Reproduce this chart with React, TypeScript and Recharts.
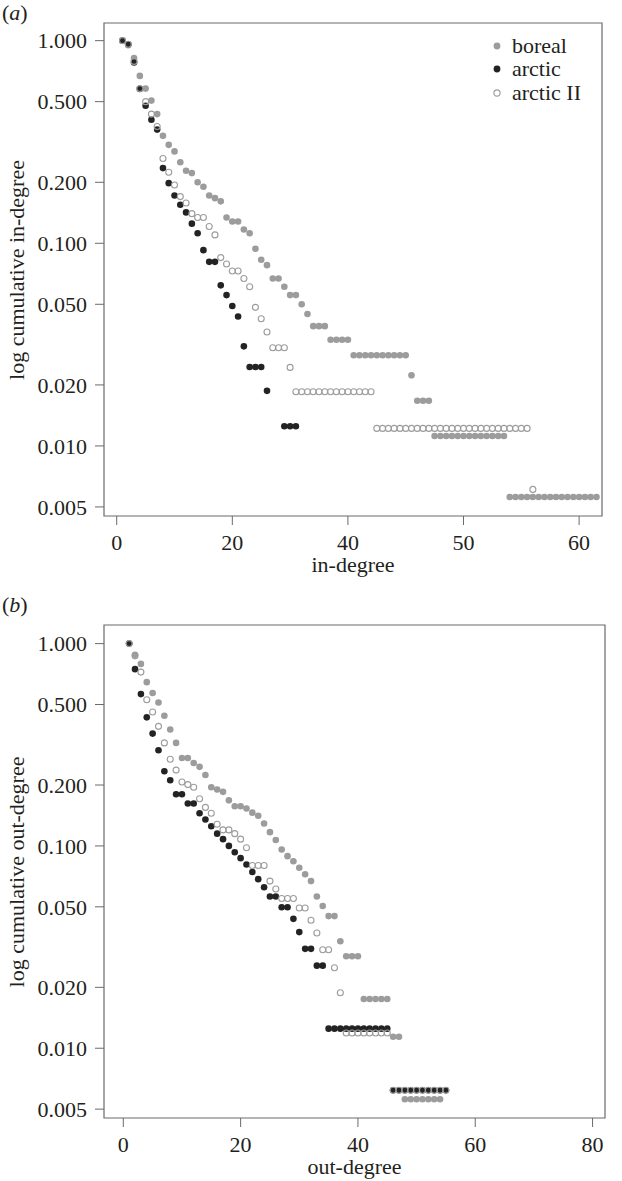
import { ScatterChart, Scatter, XAxis, YAxis, ReferenceArea } from 'recharts';

// cumulative in-degree, index 0 = degree 1 (null = no point)
const inBoreal = [
  1.0, 0.95, 0.82, 0.67, 0.58, 0.506, 0.434, 0.339, 0.306, 0.284,
  0.251, 0.228, 0.222, 0.2, 0.19, 0.172, 0.167, 0.161, 0.134, 0.128,
  0.128, 0.117, 0.112, 0.094, 0.083, 0.078, 0.067, 0.067, 0.061, 0.0555,
  0.0555, 0.05, 0.0448, 0.039, 0.039, 0.039, 0.0334, 0.0334, 0.0334, 0.0334,
  0.028, 0.028, 0.028, 0.028, 0.028, 0.028, 0.028, 0.028, 0.028, 0.028,
  0.0223, 0.0167, 0.0167, 0.0167, 0.0112, 0.0112, 0.0112, 0.0112, 0.0112, 0.0112,
  0.0112, 0.0112, 0.0112, 0.0112, 0.0112, 0.0112, 0.0112, 0.0056, 0.0056, 0.0056,
  0.0056, 0.0056, 0.0056, 0.0056, 0.0056, 0.0056, 0.0056, 0.0056, 0.0056, 0.0056,
  0.0056, 0.0056, 0.0056,
];
const inArctic = [
  1.0, 0.96, 0.78, 0.578, 0.477, 0.407, 0.364, 0.235, 0.198, 0.172,
  0.155, 0.142, 0.125, 0.112, 0.0925, 0.081, 0.081, 0.062, 0.0555, 0.049,
  0.0435, 0.031, 0.0245, 0.0245, 0.0245, 0.0187, null, null, 0.0125, 0.0125,
  0.0125,
];
const inArcticII = [
  1.0, 0.96, 0.79, 0.58, 0.5, 0.434, 0.377, 0.262, 0.224, 0.194,
  0.17, 0.158, 0.14, 0.134, 0.134, 0.121, 0.11, 0.085, 0.079, 0.073,
  0.073, 0.067, 0.061, 0.0483, 0.0424, 0.0365, 0.0305, 0.0305, 0.0305, 0.0244,
  0.0185, 0.0185, 0.0185, 0.0185, 0.0185, 0.0185, 0.0185, 0.0185, 0.0185, 0.0185,
  0.0185, 0.0185, 0.0185, 0.0185, 0.0122, 0.0122, 0.0122, 0.0122, 0.0122, 0.0122,
  0.0122, 0.0122, 0.0122, 0.0122, 0.0122, 0.0122, 0.0122, 0.0122, 0.0122, 0.0122,
  0.0122, 0.0122, 0.0122, 0.0122, 0.0122, 0.0122, 0.0122, 0.0122, 0.0122, 0.0122,
  0.0122, 0.0061,
];

// cumulative out-degree
const outBoreal = [
  1.0, 0.88, 0.794, 0.645, 0.57, 0.512, 0.44, 0.376, 0.323, 0.272,
  0.272, 0.257, 0.246, 0.224, 0.195, 0.19, 0.185, 0.168, 0.157, 0.157,
  0.153, 0.146, 0.141, 0.129, 0.117, 0.107, 0.096, 0.089, 0.084, 0.078,
  0.0725, 0.067, 0.0562, 0.0505, 0.045, 0.045, 0.0338, 0.0285, 0.0285, 0.0285,
  0.0175, 0.0175, 0.0175, 0.0175, 0.0175, 0.0114, 0.0114, 0.0056, 0.0056, 0.0056,
  0.0056, 0.0056, 0.0056, 0.0056,
];
const outArctic = [
  1.0, 0.748, 0.563, 0.432, 0.359, 0.297, 0.234, 0.211, 0.18, 0.18,
  0.162, 0.162, 0.145, 0.135, 0.125, 0.115, 0.108, 0.1, 0.093, 0.087,
  0.081, 0.0743, 0.0685, 0.0625, 0.0562, 0.0562, 0.0498, 0.0498, 0.0436, 0.0375,
  0.031, 0.031, 0.0256, 0.0256, 0.0125, 0.0125, 0.0125, 0.0125, 0.0125, 0.0125,
  0.0125, 0.0125, 0.0125, 0.0125, 0.0125, 0.0062, 0.0062, 0.0062, 0.0062, 0.0062,
  0.0062, 0.0062, 0.0062, 0.0062, 0.0062,
];
const outArcticII = [
  1.0, 0.87, 0.723, 0.528, 0.459, 0.39, 0.323, 0.268, 0.237, 0.207,
  0.201, 0.195, 0.171, 0.155, 0.145, 0.128, 0.12, 0.12, 0.115, 0.108,
  0.098, 0.08, 0.08, 0.08, 0.067, 0.0612, 0.055, 0.055, 0.055, 0.0493,
  0.0493, 0.0429, 0.0371, 0.0307, 0.0307, 0.025, 0.0188, 0.0119, 0.0119, 0.0119,
  0.0119, 0.0119, 0.0119, 0.0119, 0.0119, 0.0062, 0.0062, 0.0062, 0.0062, 0.0062,
  0.0062, 0.0062, 0.0062, 0.0062, 0.0062,
];

const yTicks = [1, 0.5, 0.2, 0.1, 0.05, 0.02, 0.01, 0.005];
const xTicks = [0, 20, 40, 60, 80];
const inXTickLabels = ['0', '20', '40', '50', '60'];
const outXTickLabels = ['0', '20', '40', '60', '80'];
const legendNames = ['boreal', 'arctic', 'arctic II'];

const GREY = '#9c9c9c';
const DARK = '#232323';
const AXIS = '#6a6a6a';
const TEXT = '#231f20';
const FONT = '"Liberation Serif", "Times New Roman", serif';

const toPoints = (values: (number | null)[]) =>
  values.map((y, i) => ({ x: i + 1, y })).filter((p) => p.y !== null);

const borealDot = (p: any) => <circle cx={p.cx} cy={p.cy} r={3.3} fill={GREY} />;
const arcticDot = (p: any) => <circle cx={p.cx} cy={p.cy} r={3.3} fill={DARK} />;
const arcticIIDot = (p: any) => (
  <circle cx={p.cx} cy={p.cy} r={3} fill="none" stroke={GREY} strokeWidth={1.1} />
);

interface PanelProps {
  height: number;
  margin: { top: number; right: number; bottom: number; left: number };
  xDomain: [number, number];
  yDomain: [number, number];
  xTickLabels: string[];
  xLabel: string;
  boreal: (number | null)[];
  arctic: (number | null)[];
  arcticII: (number | null)[];
}

function Panel(props: PanelProps) {
  const { xDomain, yDomain, xTickLabels } = props;
  return (
    <ScatterChart width={622} height={props.height} margin={props.margin}>
      <XAxis
        type="number"
        dataKey="x"
        domain={xDomain}
        ticks={xTicks}
        allowDataOverflow
        height={60}
        axisLine={false}
        tickLine={{ stroke: AXIS }}
        tickSize={9}
        tickMargin={9}
        tick={{ fontSize: 22, fill: TEXT }}
        tickFormatter={(v: number) => xTickLabels[xTicks.indexOf(v)]}
        label={{ value: props.xLabel, position: 'insideBottom', offset: 4, fontSize: 22, fill: TEXT }}
      />
      <YAxis
        type="number"
        dataKey="y"
        scale="log"
        domain={yDomain}
        ticks={yTicks}
        allowDataOverflow
        width={80}
        axisLine={false}
        tickLine={{ stroke: AXIS }}
        tickSize={9}
        tickMargin={8}
        tick={{ fontSize: 22, fill: TEXT }}
        tickFormatter={(v: number) => v.toFixed(3)}
      />
      <ReferenceArea
        x1={xDomain[0]}
        x2={xDomain[1]}
        y1={yDomain[0]}
        y2={yDomain[1]}
        fill="none"
        fillOpacity={0}
        stroke={AXIS}
        strokeWidth={1.2}
        ifOverflow="visible"
      />
      <Scatter data={toPoints(props.boreal)} shape={borealDot} isAnimationActive={false} />
      <Scatter data={toPoints(props.arctic)} shape={arcticDot} isAnimationActive={false} />
      <Scatter data={toPoints(props.arcticII)} shape={arcticIIDot} isAnimationActive={false} />
    </ScatterChart>
  );
}

const yTitle = (text: string, cx: number, cy: number) => (
  <div
    style={{
      position: 'absolute',
      left: cx,
      top: cy,
      transform: 'translate(-50%, -50%) rotate(-90deg)',
      whiteSpace: 'nowrap',
      fontSize: 22,
      lineHeight: '22px',
      color: TEXT,
    }}
  >
    {text}
  </div>
);

export default function App() {
  return (
    <div
      style={{
        position: 'absolute',
        left: 0,
        top: 0,
        width: 622,
        height: 1181,
        background: '#fff',
        fontFamily: FONT,
        color: TEXT,
      }}
    >
      {/* (a) in-degree */}
      <div style={{ position: 'absolute', left: 0, top: 0 }}>
        <Panel
          height={600}
          margin={{ top: 23, right: 20, bottom: 24, left: 24 }}
          xDomain={[-2.2, 83.96]}
          yDomain={[0.00451, 1.222]}
          xTickLabels={inXTickLabels}
          xLabel="in-degree"
          boreal={inBoreal}
          arctic={inArctic}
          arcticII={inArcticII}
        />
      </div>
      <div style={{ position: 'absolute', left: 2, top: 2, fontSize: 22, lineHeight: '22px' }}>
        (<i>a</i>)
      </div>
      {yTitle('log cumulative in-degree', 17, 269.5)}

      {/* legend */}
      <div style={{ position: 'absolute', left: 490, top: 34, fontSize: 22 }}>
        {legendNames.map((name, i) => (
          <div key={name} style={{ display: 'flex', alignItems: 'center', height: 23.5 }}>
            <svg width={14} height={10} style={{ marginRight: 8 }}>
              {i === 0 && <circle cx={7} cy={5} r={3.4} fill={GREY} />}
              {i === 1 && <circle cx={7} cy={5} r={3.4} fill={DARK} />}
              {i === 2 && <circle cx={7} cy={5} r={3.1} fill="none" stroke={GREY} strokeWidth={1.1} />}
            </svg>
            <span>{name}</span>
          </div>
        ))}
      </div>

      {/* (b) out-degree */}
      <div style={{ position: 'absolute', left: 0, top: 600 }}>
        <Panel
          height={581}
          margin={{ top: 25, right: 17, bottom: 3, left: 24 }}
          xDomain={[-3.29, 82.12]}
          yDomain={[0.00452, 1.236]}
          xTickLabels={outXTickLabels}
          xLabel="out-degree"
          boreal={outBoreal}
          arctic={outArctic}
          arcticII={outArcticII}
        />
      </div>
      <div style={{ position: 'absolute', left: 2, top: 594, fontSize: 22, lineHeight: '22px' }}>
        (<i>b</i>)
      </div>
      {yTitle('log cumulative out-degree', 17, 871.5)}
    </div>
  );
}
